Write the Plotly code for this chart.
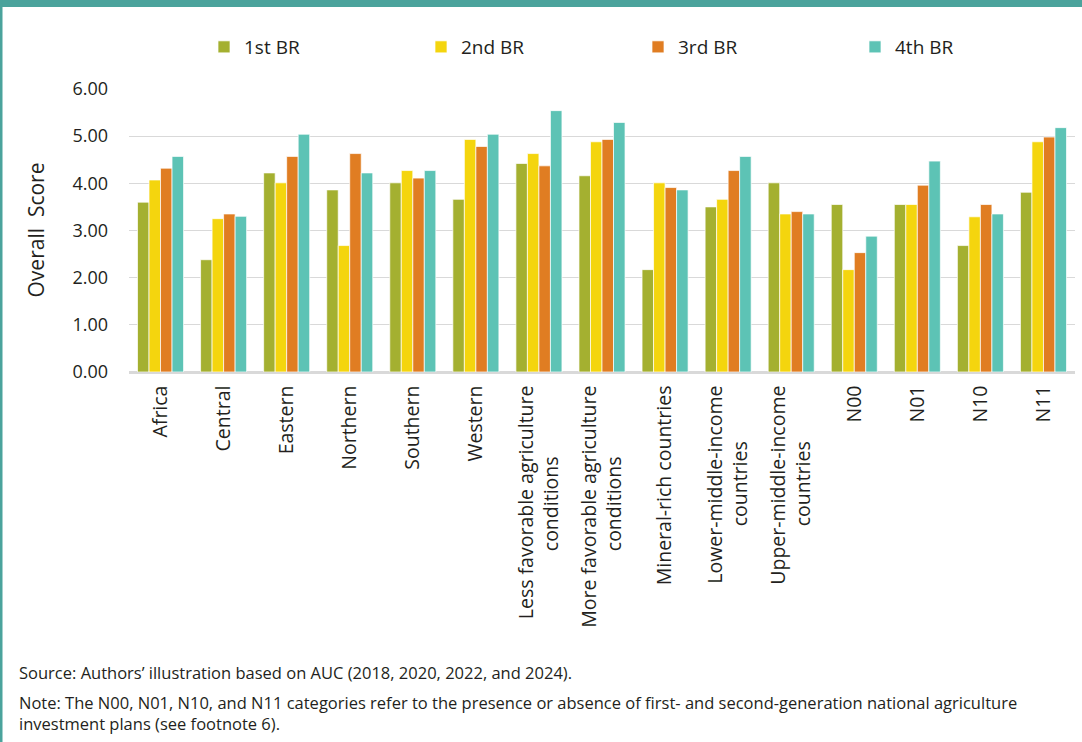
import plotly.graph_objects as go

NB = "\u00a0"

# Categories shown along the x axis (second lines padded so they sit centred under the first)
categories = [
    "Africa", "Central", "Eastern", "Northern", "Southern", "Western",
    "Less favorable agriculture<br>conditions" + NB * 14,
    "More favorable agriculture<br>conditions" + NB * 14,
    "Mineral-rich countries",
    "Lower-middle-income<br>countries" + NB * 11,
    "Upper-middle-income<br>countries" + NB * 11,
    "N00", "N01", "N10", "N11",
]

# Overall score per biennial review round
br1 = [3.60, 2.38, 4.22, 3.86, 4.01, 3.66, 4.42, 4.16, 2.17, 3.50, 4.01, 3.55, 3.55, 2.68, 3.81]
br2 = [4.07, 3.25, 4.01, 2.68, 4.27, 4.93, 4.63, 4.88, 4.01, 3.66, 3.35, 2.17, 3.55, 3.29, 4.88]
br3 = [4.32, 3.35, 4.57, 4.63, 4.11, 4.78, 4.37, 4.93, 3.91, 4.27, 3.40, 2.53, 3.96, 3.55, 4.98]
br4 = [4.57, 3.30, 5.04, 4.22, 4.27, 5.04, 5.54, 5.29, 3.86, 4.57, 3.35, 2.88, 4.47, 3.35, 5.18]

series_names = ["1st BR", "2nd BR", "3rd BR", "4th BR"]
series_values = [br1, br2, br3, br4]
series_colors = ["#A4B030", "#F4D50E", "#E07D22", "#5DC3B5"]

y_ticks = [0, 1, 2, 3, 4, 5, 6]

FONT = "Open Sans"
TEXT = "#231F20"

W, H = 1082, 742
M_L, M_R, M_T, M_B = 129, 7, 88, 370
PW = W - M_L - M_R
PH = H - M_T - M_B


def px_x(p):
    return (p - M_L) / PW


def px_y(p):
    return (H - M_B - p) / PH


fig = go.Figure()
for name, vals, col in zip(series_names, series_values, series_colors):
    fig.add_trace(go.Bar(
        x=categories, y=vals, name=name,
        marker=dict(color=col, line=dict(color="rgba(255,255,255,0.7)", width=1)),
    ))

fig.update_layout(
    width=W, height=H,
    margin=dict(l=M_L, r=M_R, t=M_T, b=M_B),
    paper_bgcolor="white", plot_bgcolor="white",
    barmode="group", bargap=0.27, bargroupgap=0,
    font=dict(family=FONT, color=TEXT, size=16),
    legend=dict(
        orientation="h", x=px_x(204), xanchor="left", y=px_y(47), yanchor="middle",
        entrywidth=172, entrywidthmode="pixels", itemwidth=30,
        bgcolor="rgba(0,0,0,0)",
        font=dict(size=19, color=TEXT), traceorder="normal",
    ),
    showlegend=True,
)

fig.update_xaxes(
    tickangle=-90, tickfont=dict(size=19.5, color=TEXT),
    showline=True, linecolor="#D9D9D9", linewidth=1.5,
    ticks="", showgrid=False, ticklabelstandoff=4,
)
fig.update_yaxes(
    range=[0, 6.02], tickvals=y_ticks, tickformat=".2f",
    tickfont=dict(size=18, color=TEXT),
    showgrid=True, gridcolor="#D9D9D9", gridwidth=1.3,
    zeroline=True, zerolinecolor="#D9D9D9", zerolinewidth=1.5,
    ticks="", ticklabelstandoff=20,
    title=dict(text="Overall  Score", font=dict(size=21, color=TEXT), standoff=22),
)

# Frame of the exhibit box: top band and left edge
frame = "#4BA39C"
fig.add_shape(type="rect", xref="paper", yref="paper",
              x0=px_x(0), x1=px_x(W), y0=px_y(7), y1=px_y(0),
              fillcolor=frame, line=dict(width=0), layer="above")
fig.add_shape(type="rect", xref="paper", yref="paper",
              x0=px_x(0), x1=px_x(2.5), y0=px_y(H), y1=px_y(0),
              fillcolor=frame, line=dict(width=0), layer="above")

source_text = "Source: Authors’ illustration based on AUC (2018, 2020, 2022, and 2024)."
note_text = ("Note: The N00, N01, N10, and N11 categories refer to the presence or absence of "
             "first- and second-generation national agriculture<br>investment plans (see footnote 6).")

fig.add_annotation(text=source_text, xref="paper", yref="paper",
                   x=px_x(17), y=px_y(672), xanchor="left", yanchor="middle",
                   showarrow=False, font=dict(size=16.5, color=TEXT, family=FONT))
fig.add_annotation(text=note_text, xref="paper", yref="paper",
                   x=px_x(17), y=px_y(713.5), xanchor="left", yanchor="middle",
                   align="left", showarrow=False,
                   font=dict(size=16.5, color=TEXT, family=FONT))

fig.write_html("out.html")
